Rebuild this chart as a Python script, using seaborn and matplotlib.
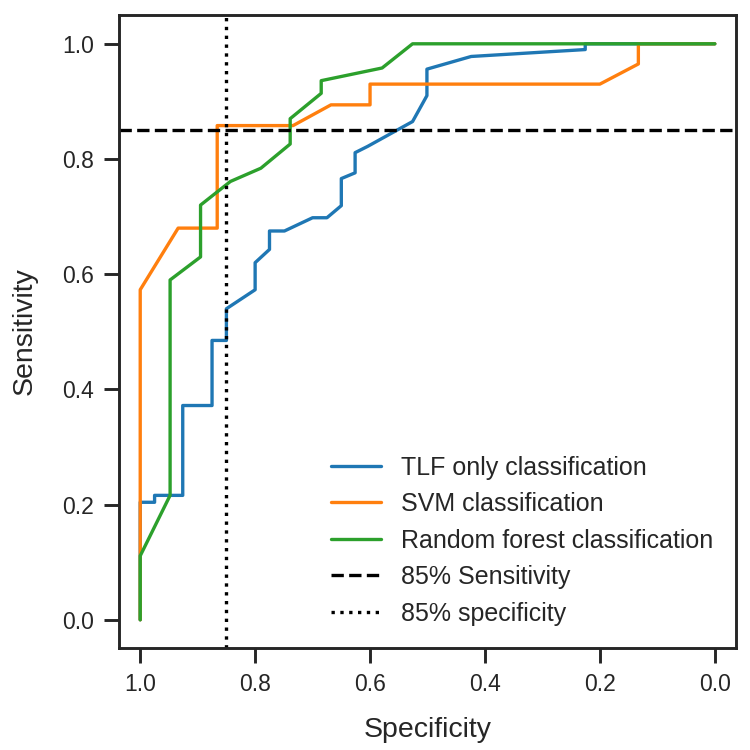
import numpy as np
import pandas as pd
import matplotlib
matplotlib.use("Agg")
import matplotlib.pyplot as plt
import seaborn as sns

# ─────────────────────────────────────────
# DATA — ROC points (specificity, sensitivity)
# ─────────────────────────────────────────

tlf_spec = [1.0, 1.0, 0.975, 0.975, 0.926, 0.926, 0.875, 0.875, 0.85, 0.85,
            0.80, 0.80, 0.775, 0.775, 0.749, 0.70, 0.675, 0.65, 0.65, 0.626,
            0.626, 0.604, 0.526, 0.501, 0.501, 0.424, 0.2255, 0.2255, 0.0]
tlf_sens = [0.0, 0.204, 0.204, 0.216, 0.216, 0.372, 0.372, 0.485, 0.485, 0.540,
            0.573, 0.620, 0.643, 0.675, 0.675, 0.698, 0.698, 0.719, 0.766, 0.776,
            0.811, 0.822, 0.865, 0.91, 0.956, 0.978, 0.99, 1.0, 1.0]

svm_spec = [1.0, 1.0, 0.934, 0.866, 0.866, 0.734, 0.668, 0.6, 0.6, 0.2,
            0.133, 0.133, 0.0]
svm_sens = [0.0, 0.573, 0.68, 0.68, 0.858, 0.858, 0.894, 0.894, 0.930, 0.930,
            0.965, 1.0, 1.0]

rf_spec = [1.0, 1.0, 0.948, 0.948, 0.895, 0.895, 0.843, 0.79, 0.739, 0.739,
           0.685, 0.685, 0.579, 0.526, 0.0]
rf_sens = [0.0, 0.111, 0.216, 0.59, 0.630, 0.72, 0.761, 0.784, 0.826, 0.870,
           0.914, 0.936, 0.958, 1.0, 1.0]

curves = [
    ("TLF only classification", tlf_spec, tlf_sens, "#1f77b4"),
    ("SVM classification", svm_spec, svm_sens, "#ff7f0e"),
    ("Random forest classification", rf_spec, rf_sens, "#2ca02c"),
]

cutoff = 0.85

# ─────────────────────────────────────────
# PLOT
# ─────────────────────────────────────────

sns.set_theme(style="ticks", context="talk")
plt.rcParams['font.family'] = ['Liberation Sans', 'DejaVu Sans']
plt.rcParams['xtick.major.pad'] = 7.5
plt.rcParams['ytick.major.pad'] = 7.5
plt.rcParams['xtick.major.size'] = 10.5
plt.rcParams['ytick.major.size'] = 10.5
plt.rcParams['axes.linewidth'] = 2.1
plt.rcParams['xtick.major.width'] = 2.1
plt.rcParams['ytick.major.width'] = 2.1
plt.rcParams['lines.linewidth'] = 2.4

fig, ax = plt.subplots(figsize=(7.5, 7.5), dpi=100)

for name, spec, sens, color in curves:
    df = pd.DataFrame({"Specificity": spec, "Sensitivity": sens})
    sns.lineplot(data=df, x="Specificity", y="Sensitivity", sort=False,
                 estimator=None, color=color, label=name, ax=ax)

ax.axhline(cutoff, color="black", linestyle="--", label="85% Sensitivity")
ax.axvline(cutoff, color="black", linestyle=":", label="85% specificity")

ax.set_xlim(1.0365, -0.0365)
ax.set_ylim(-0.049, 1.05)
ax.set_xticks([1.0, 0.8, 0.6, 0.4, 0.2, 0.0])
ax.set_yticks([0.0, 0.2, 0.4, 0.6, 0.8, 1.0])
ax.tick_params(labelsize=16.5)
ax.set_xlabel("Specificity", fontsize=20.5, labelpad=15)
ax.set_ylabel("Sensitivity", fontsize=20.5, labelpad=18)

ax.legend(loc="lower right", frameon=False, fontsize=18)

plt.subplots_adjust(left=0.159, right=0.981, top=0.98, bottom=0.136)
plt.savefig("out.png")
